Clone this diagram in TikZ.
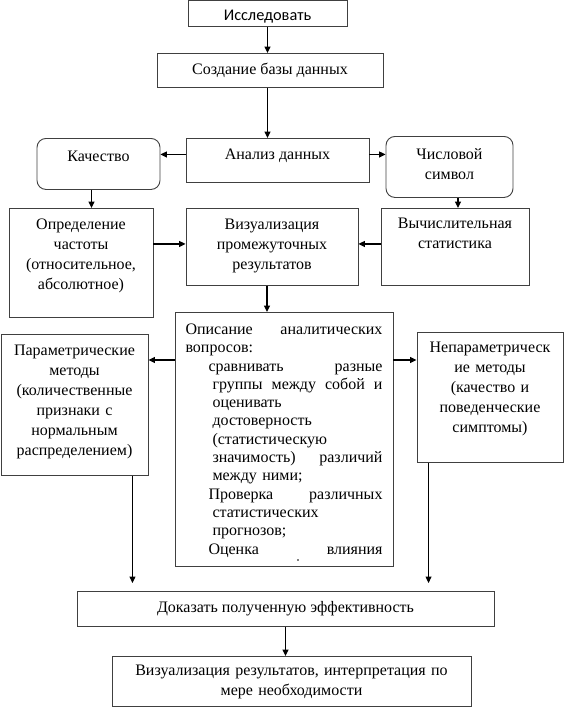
\documentclass[tikz,border=0pt]{standalone}
\usepackage{fontspec}
\setmainfont{Liberation Serif}
\newfontfamily\calibrifont{Carlito}
\usetikzlibrary{arrows.meta,positioning}
\setlength{\parindent}{0pt}
\begin{document}
\begin{tikzpicture}[x=1pt,y=-1pt,>={Triangle[length=6.5pt,width=6pt]},
    main node/.style={rectangle,draw=black!75,line width=0.9pt,inner sep=0pt,align=center,
    anchor=north,font=\fontsize{16}{20}\selectfont},
    round node/.style={main node,rounded corners=9pt},
    link/.style={->,line width=1.1pt}]

    \useasboundingbox (0,0) rectangle (567,707);

    \node[main node,minimum width=159pt,text height=20pt,text depth=6pt,
        font=\calibrifont\fontsize{16.3}{18}\selectfont] (Research) at (267.5,0) {Исследовать};
    \node[main node,minimum width=226pt,text height=21pt,text depth=13pt] (CreateDatabase) at (270,53) {Создание базы данных};

    \node[main node,minimum width=183pt,text height=21pt,text depth=23pt] (DataAnalysis) at (277.5,138) {Анализ данных};
    \node[round node,minimum width=123pt,text height=23pt,text depth=28pt] (Quality) at (98.5,138) {Качество};
    \node[round node,minimum width=127pt,text width=123pt,text height=23pt,text depth=38pt] (NumericSymbol) at (449.5,136)
        {Числовой\\символ};

    \node[main node,minimum width=144pt,text width=140pt,text height=21pt,text depth=88pt] (FrequencyDef) at (81,208)
        {Определение\\частоты\\(относительное,\\абсолютное)};
    \node[main node,minimum width=172pt,text width=168pt,text height=21pt,text depth=56pt] (VisualIntermediate) at (272,208)
        {Визуализация\\промежуточных\\результатов};
    \node[main node,minimum width=148pt,text width=144pt,text height=20pt,text depth=57pt] (CompStats) at (455,208)
        {Вычислительная\\статистика};

    \node[main node,minimum width=218pt,text width=197pt,align=left,text height=22pt,text depth=232pt,
        font=\fontsize{16}{18.3}\selectfont] (Description) at (284,312) {%
        Описание\hfill аналитических\\
        вопросов:\\
        \hspace*{23pt}сравнивать\hfill разные\\
        \hspace*{27pt}группы\hfill между\hfill собой\hfill и\\
        \hspace*{27pt}оценивать\\
        \hspace*{27pt}достоверность\\
        \hspace*{27pt}(статистическую\\
        \hspace*{27pt}значимость)\hfill различий\\
        \hspace*{27pt}между ними;\\
        \hspace*{23pt}Проверка\hfill различных\\
        \hspace*{27pt}статистических\\
        \hspace*{27pt}прогнозов;\\
        \hspace*{23pt}Оценка\hfill влияния};
    \fill (298,560) circle (0.9pt);

    \node[main node,minimum width=147pt,text width=143pt,text height=21pt,text depth=120pt] (Parametric) at (74.5,334)
        {Параметрические\\методы\\(количественные\\признаки с\\нормальным\\распределением)};
    \node[main node,minimum width=146pt,text width=142pt,text height=20pt,text depth=110pt] (Nonparametric) at (490,332)
        {Непараметрическ\\ие методы\\(качество и\\поведенческие\\симптомы)};

    \node[main node,minimum width=417pt,text height=21pt,text depth=14pt] (ProveEfficiency) at (285.5,591)
        {Доказать полученную эффективность};
    \node[main node,minimum width=359pt,text width=355pt,text height=19pt,text depth=31pt] (VisualResults) at (291.5,656)
        {Визуализация результатов, интерпретация по\\мере необходимости};

    \draw[link] (Research.south) -- (Research.south |- CreateDatabase.north);
    \draw[link] (CreateDatabase.south -| Research.south) -- (Research.south |- DataAnalysis.north);
    \draw[link] ([yshift=5pt]DataAnalysis.base west) -- ([yshift=5pt]DataAnalysis.base west -| Quality.east);
    \draw[link] ([yshift=5pt]DataAnalysis.base east) -- ([yshift=5pt]DataAnalysis.base east -| NumericSymbol.west);
    \draw[link] ([xshift=-7pt]Quality.south) -- ([xshift=-7pt]Quality.south |- FrequencyDef.north);
    \draw[link] ([xshift=8.5pt]NumericSymbol.south) -- ([xshift=8.5pt]NumericSymbol.south |- CompStats.north);

    \draw[link] ([yshift=3pt]VisualIntermediate.west -| FrequencyDef.east) -- ([yshift=3pt]VisualIntermediate.west);
    \draw[link] ([yshift=3pt]VisualIntermediate.east -| CompStats.west) -- ([yshift=3pt]VisualIntermediate.east);
    \draw[link] ([xshift=-5pt]VisualIntermediate.south) -- ([xshift=-5pt]VisualIntermediate.south |- Description.north);

    \draw[link] ([yshift=-48pt]Description.north west) -- ([yshift=-48pt]Description.north west -| Parametric.east);
    \draw[link] ([yshift=-48pt]Description.north east) -- ([yshift=-48pt]Description.north east -| Nonparametric.west);
    \draw[link,shorten >=8pt] ([xshift=-16pt]Parametric.south east) -- ([xshift=-16pt]Parametric.south east |- ProveEfficiency.north);
    \draw[link,shorten >=8pt] ([xshift=12pt]Nonparametric.south west) -- ([xshift=12pt]Nonparametric.south west |- ProveEfficiency.north);
    \draw[link] (ProveEfficiency.south) -- (ProveEfficiency.south |- VisualResults.north);
\end{tikzpicture}
\end{document}
